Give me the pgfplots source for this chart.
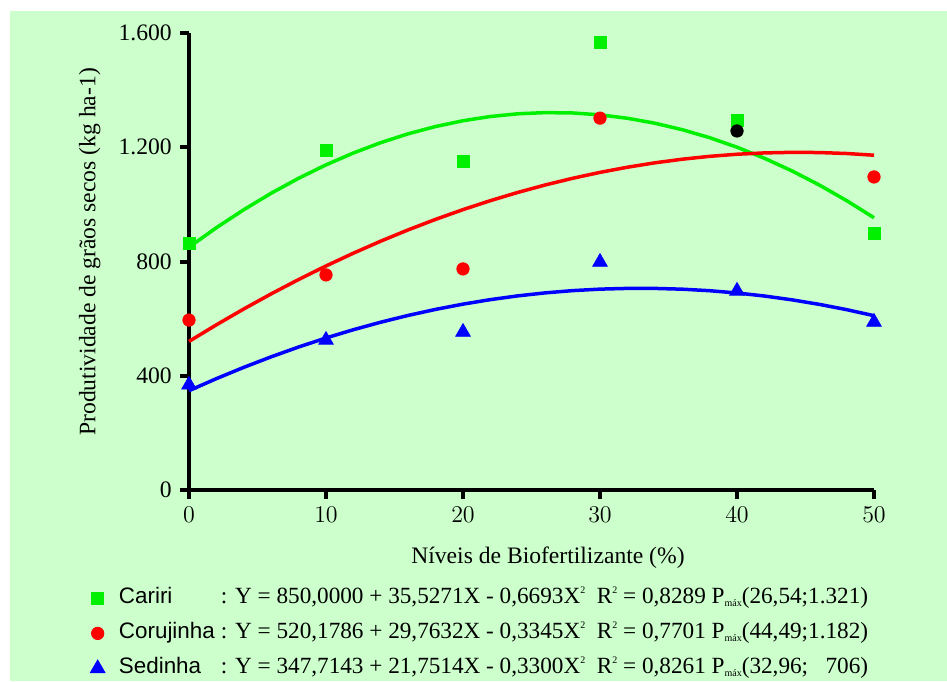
\documentclass[border=0pt]{standalone}
\usepackage{fontspec}
\setmainfont{Liberation Serif}
\setsansfont{Liberation Sans}
\usepackage{pgfplots}
\pgfplotsset{compat=1.18}
\definecolor{bg}{RGB}{204,255,204}
\definecolor{cgreen}{RGB}{0,240,0}
\definecolor{cred}{RGB}{255,0,0}
\definecolor{cblue}{RGB}{0,0,255}

\newcommand\sq{\raisebox{4.8pt}{\fontsize{5}{5}\selectfont 2}}
\newcommand\pmax{P\raisebox{-1.5pt}{\fontsize{5}{5}\selectfont máx}}
\newcommand\nm[1]{\makebox[51pt][l]{\fontsize{11.2}{13}\sffamily #1}}

\begin{document}
\fontsize{11.8}{14}\selectfont
\begin{tikzpicture}
\useasboundingbox (0,0) rectangle (473.5pt,340.5pt);
\fill[white] (0,0) rectangle (473.5pt,340.5pt);
\fill[bg] (5pt,0) rectangle (473.5pt,335pt);
\begin{axis}[
    at={(94.5pt,95.5pt)}, anchor=south west,
    scale only axis, width=342.5pt, height=228.5pt,
    xmin=0, xmax=50, ymin=0, ymax=1600,
    axis x line*=bottom, axis y line*=left,
    axis line style={line width=2pt},
    tick align=outside, major tick length=4.5pt,
    tick style={line width=2pt, black},
    xtick={0,10,20,30,40,50},
    ytick={0,400,800,1200,1600},
    yticklabels={0,400,800,1.200,1.600},
    clip=false,
    xlabel={Níveis de Biofertilizante (\%)},
    ylabel={Produtividade de grãos secos (kg ha-1)},
    every axis x label/.style={at={(axis description cs:0.524,-0.149)},anchor=center},
    every axis y label/.style={at={(axis description cs:-0.145,0.521)},rotate=90,anchor=center},
    legend style={at={(axis description cs:-0.1445,-0.2035)}, anchor=north west,
        draw=none, fill=none, inner sep=0pt, row sep=2.5pt,
        font=\fontsize{11.6}{14}\selectfont,
        nodes={text height=8pt, text depth=3pt, inner sep=2pt},
        /tikz/every odd column/.append style={column sep=5pt}},
    legend cell align=left,
]
% fitted curves
\addplot[cgreen, line width=1.75pt, forget plot] coordinates {
(0,850.00) (2,918.38) (4,981.40) (6,1039.07) (8,1091.38) (10,1138.34)
(12,1179.95) (14,1216.20) (16,1247.09) (18,1272.63) (20,1292.82) (22,1307.66)
(24,1317.13) (26,1321.26) (28,1320.03) (30,1313.44) (32,1301.50) (34,1284.21)
(36,1261.56) (38,1233.56) (40,1200.20) (42,1161.49) (44,1117.43) (46,1068.01)
(48,1013.23) (50,953.11)
};
\addplot[cred, line width=1.75pt, forget plot] coordinates {
(0,520.18) (2,578.37) (4,633.88) (6,686.72) (8,736.88) (10,784.36)
(12,829.17) (14,871.30) (16,910.76) (18,947.54) (20,981.64) (22,1013.07)
(24,1041.82) (26,1067.90) (28,1091.30) (30,1112.02) (32,1130.07) (34,1145.45)
(36,1158.14) (38,1168.16) (40,1175.51) (42,1180.17) (44,1182.17) (46,1181.48)
(48,1178.12) (50,1172.09)
};
\addplot[cblue, line width=1.75pt, forget plot] coordinates {
(0,347.71) (2,389.90) (4,429.44) (6,466.34) (8,500.61) (10,532.23)
(12,561.21) (14,587.55) (16,611.26) (18,632.32) (20,650.74) (22,666.53)
(24,679.67) (26,690.17) (28,698.03) (30,703.26) (32,705.84) (34,705.78)
(36,703.08) (38,697.75) (40,689.77) (42,679.15) (44,665.90) (46,650.00)
(48,631.46) (50,610.28)
};
% observed values
\addplot[only marks, mark=square*, mark size=3pt, color=cgreen] coordinates {
(0,865) (10,1190) (20,1152) (30,1568) (40,1295) (50,900)
};
\addlegendentry{\nm{Cariri}: Y = 850,0000 + 35,5271X - 0,6693X\sq\ \ R\sq\ = 0,8289 \pmax(26,54;1.321)}
\addplot[only marks, mark=*, mark size=3.1pt, color=cred] coordinates {
(0,595) (10,753) (20,774) (30,1302) (50,1096)
};
\addlegendentry{\nm{Corujinha}: Y = 520,1786 + 29,7632X - 0,3345X\sq\ \ R\sq\ = 0,7701 \pmax(44,49;1.182)}
\addplot[only marks, mark=triangle*, mark size=4.2pt, color=cblue] coordinates {
(0,368) (10,525) (20,553) (30,798) (40,697) (50,588)
};
\addlegendentry{\nm{Sedinha}: Y = 347,7143 + 21,7514X - 0,3300X\sq\ \ R\sq\ = 0,8261 \pmax(32,96;\ \ \ 706)}
\addplot[only marks, mark=*, mark size=3.1pt, color=black, forget plot] coordinates {
(40,1257)
};
\end{axis}
\end{tikzpicture}
\end{document}
